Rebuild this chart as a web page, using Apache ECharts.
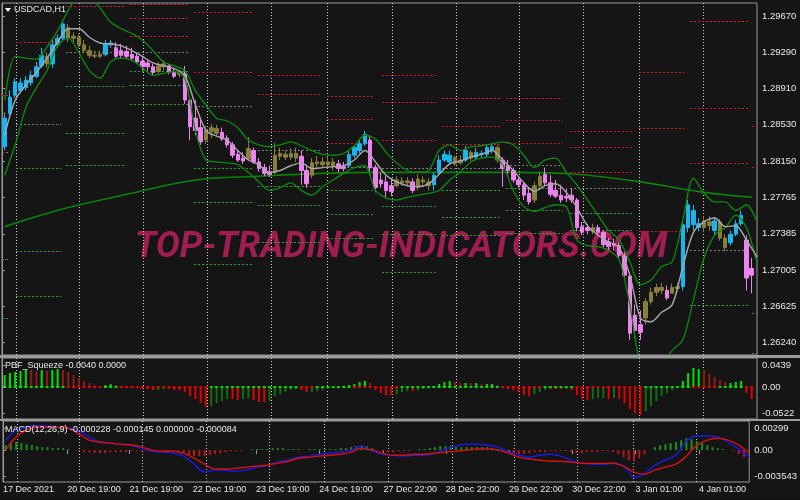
<!DOCTYPE html>
<html><head><meta charset="utf-8">
<script src="https://cdn.jsdelivr.net/npm/echarts@6/dist/echarts.min.js"></script>
<style>html,body{margin:0;padding:0;background:#151515}#c{width:800px;height:500px}</style>
</head><body><div id="c"></div>
<script>
// ---------- DATA ----------
const BAR_HOURS = 2; // each candle covers 2 hours, first candle centred at hour 1
const barOpen = [1.2830,1.2865,1.2884,1.2889,1.2892,1.2897,1.2904,1.2915,1.2925,1.2917,
1.2937,1.2944,1.2955,1.2944,1.2945,1.2937,1.2931,1.2926,1.2925,1.2927,
1.2937,1.2934,1.2931,1.2930,1.2927,1.2925,1.2920,1.2918,1.2914,1.2909,
1.2914,1.2915,1.2908,1.2906,1.2907,1.2879,1.2860,1.2850,1.2837,1.2846,
1.2849,1.2845,1.2839,1.2832,1.2822,1.2818,1.2817,1.2826,1.2814,1.2808,
1.2803,1.2803,1.2820,1.2822,1.2819,1.2823,1.2820,1.2805,1.2800,1.2812,
1.2814,1.2811,1.2814,1.2812,1.2809,1.2810,1.2821,1.2826,1.2833,1.2837,
1.2808,1.2795,1.2793,1.2789,1.2789,1.2794,1.2792,1.2793,1.2787,1.2795,
1.2793,1.2790,1.2803,1.2816,1.2814,1.2819,1.2813,1.2816,1.2824,1.2819,
1.2822,1.2822,1.2826,1.2829,1.2816,1.2810,1.2805,1.2795,1.2790,1.2781,
1.2774,1.2789,1.2801,1.2792,1.2784,1.2779,1.2778,1.2779,1.2774,1.2746,
1.2742,1.2741,1.2745,1.2740,1.2730,1.2728,1.2726,1.2715,1.2694,1.2653,
1.2643,1.2650,1.2667,1.2677,1.2682,1.2679,1.2676,1.2681,1.2683,1.2745,
1.2763,1.2749,1.2745,1.2751,1.2742,1.2751,1.2734,1.2729,1.2738,1.2749,
1.2732,1.2695];
const barClose = [1.2860,1.2882,1.2898,1.2897,1.2900,1.2905,1.2914,1.2926,1.2917,1.2937,
1.2944,1.2959,1.2944,1.2946,1.2937,1.2931,1.2926,1.2925,1.2927,1.2938,
1.2939,1.2925,1.2926,1.2925,1.2923,1.2919,1.2914,1.2914,1.2908,1.2915,
1.2917,1.2908,1.2904,1.2907,1.2879,1.2851,1.2847,1.2835,1.2847,1.2850,
1.2844,1.2838,1.2832,1.2821,1.2816,1.2815,1.2828,1.2814,1.2807,1.2802,
1.2801,1.2821,1.2823,1.2819,1.2823,1.2818,1.2805,1.2791,1.2813,1.2814,
1.2811,1.2814,1.2810,1.2807,1.2807,1.2822,1.2829,1.2833,1.2843,1.2808,
1.2787,1.2791,1.2784,1.2783,1.2795,1.2792,1.2794,1.2784,1.2796,1.2793,
1.2789,1.2800,1.2816,1.2822,1.2821,1.2812,1.2816,1.2826,1.2818,1.2824,
1.2823,1.2829,1.2830,1.2816,1.2807,1.2805,1.2795,1.2790,1.2779,1.2772,
1.2789,1.2799,1.2792,1.2780,1.2778,1.2774,1.2776,1.2774,1.2745,1.2740,
1.2745,1.2745,1.2740,1.2727,1.2725,1.2726,1.2716,1.2695,1.2634,1.2637,
1.2635,1.2667,1.2677,1.2682,1.2679,1.2671,1.2682,1.2683,1.2748,1.2769,
1.2748,1.2745,1.2752,1.2747,1.2752,1.2734,1.2724,1.2738,1.2749,1.2758,
1.2692,1.2702];
const barLow = [1.2826,1.2862,1.2881,1.2886,1.2889,1.2894,1.2902,1.2913,1.2913,1.2913,
1.2934,1.2942,1.2940,1.2940,1.2934,1.2928,1.2923,1.2923,1.2923,1.2925,
1.2934,1.2923,1.2923,1.2922,1.2920,1.2917,1.2910,1.2910,1.2905,1.2907,
1.2910,1.2906,1.2902,1.2903,1.2875,1.2837,1.2842,1.2832,1.2833,1.2839,
1.2841,1.2836,1.2829,1.2818,1.2814,1.2812,1.2816,1.2812,1.2804,1.2799,
1.2798,1.2801,1.2816,1.2816,1.2816,1.2814,1.2790,1.2787,1.2797,1.2808,
1.2808,1.2808,1.2805,1.2803,1.2804,1.2808,1.2818,1.2823,1.2831,1.2800,
1.2782,1.2787,1.2776,1.2778,1.2787,1.2789,1.2789,1.2781,1.2784,1.2790,
1.2784,1.2784,1.2801,1.2814,1.2812,1.2810,1.2811,1.2814,1.2815,1.2816,
1.2818,1.2819,1.2823,1.2813,1.2788,1.2800,1.2792,1.2787,1.2774,1.2769,
1.2771,1.2787,1.2789,1.2777,1.2776,1.2771,1.2772,1.2771,1.2741,1.2737,
1.2738,1.2738,1.2737,1.2724,1.2721,1.2721,1.2713,1.2692,1.2627,1.2629,
1.2627,1.2643,1.2664,1.2673,1.2675,1.2669,1.2676,1.2678,1.2679,1.2740,
1.2742,1.2741,1.2740,1.2742,1.2737,1.2731,1.2720,1.2726,1.2736,1.2747,
1.2679,1.2676];
const barHigh = [1.2866,1.2889,1.2902,1.2902,1.2904,1.2910,1.2919,1.2934,1.2929,1.2942,
1.2948,1.2963,1.2959,1.2950,1.2948,1.2942,1.2936,1.2931,1.2931,1.2942,
1.2942,1.2940,1.2938,1.2936,1.2934,1.2929,1.2925,1.2921,1.2917,1.2919,
1.2921,1.2917,1.2912,1.2910,1.2915,1.2881,1.2879,1.2860,1.2852,1.2854,
1.2853,1.2850,1.2842,1.2835,1.2826,1.2824,1.2840,1.2829,1.2818,1.2812,
1.2810,1.2834,1.2829,1.2826,1.2828,1.2829,1.2826,1.2811,1.2818,1.2820,
1.2819,1.2820,1.2818,1.2816,1.2814,1.2826,1.2832,1.2837,1.2847,1.2842,
1.2811,1.2803,1.2799,1.2797,1.2799,1.2798,1.2798,1.2797,1.2801,1.2799,
1.2797,1.2803,1.2821,1.2826,1.2826,1.2820,1.2821,1.2831,1.2826,1.2829,
1.2826,1.2832,1.2833,1.2832,1.2819,1.2816,1.2808,1.2799,1.2793,1.2787,
1.2793,1.2803,1.2808,1.2800,1.2795,1.2790,1.2786,1.2786,1.2776,1.2751,
1.2749,1.2749,1.2748,1.2742,1.2734,1.2733,1.2729,1.2719,1.2698,1.2664,
1.2658,1.2671,1.2682,1.2686,1.2687,1.2684,1.2686,1.2687,1.2751,1.2774,
1.2769,1.2755,1.2757,1.2757,1.2756,1.2754,1.2738,1.2742,1.2753,1.2763,
1.2737,1.2713];
// b = strong up (blue), o = neutral (olive), p = down (violet)
const barColorCode = "bbbbbbbbob"+"bbooooooob"+"bppppppppo"+"oppoppppoo"+"opppppoppp"+"poooooppoo"+"oooppbbbbp"+"ppppooopoo"+"obbbboobob"+"bbbopppppp"+"oopppppppp"+"popppppppp"+"poooopoobb"+"bbooboobbb"+"pp";

// indicator lines sampled every 2 bars (4 hours)
const maLine = [1.2842,1.2879,1.2895,1.2908,1.2923,1.2940,1.2954,1.2954,1.2945,1.2939,
1.2938,1.2936,1.2931,1.2925,1.2918,1.2915,1.2912,1.2905,1.2874,1.2847,
1.2841,1.2837,1.2826,1.2816,1.2811,1.2803,1.2805,1.2810,1.2813,1.2807,
1.2808,1.2809,1.2810,1.2816,1.2826,1.2814,1.2800,1.2793,1.2789,1.2788,
1.2791,1.2801,1.2812,1.2815,1.2819,1.2822,1.2826,1.2816,1.2805,1.2792,
1.2783,1.2789,1.2791,1.2782,1.2766,1.2747,1.2737,1.2730,1.2724,1.2695,
1.2650,1.2646,1.2656,1.2664,1.2704,1.2740,1.2751,1.2755,1.2746,1.2747,
1.2732,1.2714];
const bandUpper = [1.2879,1.2925,1.2923,1.2922,1.2935,1.2952,1.2973,1.2989,1.2987,1.2976,
1.2961,1.2954,1.2949,1.2942,1.2931,1.2919,1.2915,1.2910,1.2889,1.2874,
1.2860,1.2857,1.2850,1.2837,1.2832,1.2830,1.2832,1.2835,1.2831,1.2826,
1.2822,1.2821,1.2823,1.2831,1.2842,1.2838,1.2824,1.2813,1.2805,1.2803,
1.2805,1.2826,1.2832,1.2826,1.2830,1.2831,1.2833,1.2835,1.2832,1.2821,
1.2808,1.2816,1.2818,1.2803,1.2790,1.2774,1.2758,1.2742,1.2732,1.2709,
1.2685,1.2690,1.2704,1.2709,1.2753,1.2797,1.2781,1.2772,1.2772,1.2763,
1.2769,1.2751];
const bandLower = [1.2800,1.2832,1.2871,1.2892,1.2910,1.2936,1.2944,1.2929,1.2910,1.2902,
1.2919,1.2923,1.2921,1.2913,1.2905,1.2907,1.2909,1.2902,1.2847,1.2816,
1.2814,1.2813,1.2811,1.2803,1.2793,1.2784,1.2787,1.2792,1.2784,1.2779,
1.2788,1.2795,1.2802,1.2808,1.2810,1.2784,1.2776,1.2774,1.2777,1.2779,
1.2781,1.2784,1.2795,1.2803,1.2814,1.2818,1.2819,1.2811,1.2784,1.2767,
1.2762,1.2766,1.2769,1.2767,1.2732,1.2726,1.2725,1.2721,1.2711,1.2664,
1.2601,1.2590,1.2601,1.2616,1.2627,1.2669,1.2713,1.2737,1.2745,1.2758,
1.2745,1.2708];
const longMaHours = [1,25,49,73,97,121,145,169,193,217,241,265,283];
const longMa = [1.2746,1.2766,1.2781,1.2795,1.2799,1.2802,1.2803,1.2803,1.2803,1.2801,1.2793,1.2782,1.2777];

// PBF squeeze histogram (per bar)
const squeeze = [0.024,0.028,0.030,0.032,0.034,0.034,0.032,0.034,0.032,0.034,
0.036,0.034,0.030,0.024,0.018,0.012,0.008,0.004,0.002,0.004,
0.006,0.004,-0.002,-0.002,-0.002,-0.002,-0.004,-0.004,-0.006,-0.006,
-0.004,-0.004,-0.006,-0.006,-0.010,-0.018,-0.024,-0.032,-0.040,-0.038,
-0.032,-0.028,-0.024,-0.024,-0.026,-0.024,-0.022,-0.026,-0.030,-0.030,
-0.028,-0.018,-0.014,-0.010,-0.006,-0.004,-0.006,-0.010,-0.010,-0.008,
-0.006,-0.004,-0.002,-0.002,0.002,0.004,0.006,0.010,0.012,0.008,
-0.006,-0.012,-0.016,-0.016,-0.014,-0.010,-0.008,-0.008,-0.006,-0.004,
-0.002,0.002,0.006,0.010,0.012,0.010,0.008,0.008,0.008,0.008,
0.006,0.006,0.006,0.004,-0.002,-0.004,-0.006,-0.010,-0.016,-0.018,
-0.014,-0.010,-0.006,-0.004,-0.004,-0.004,-0.004,-0.006,-0.016,-0.024,
-0.026,-0.024,-0.022,-0.022,-0.024,-0.022,-0.024,-0.032,-0.044,-0.052,
-0.056,-0.048,-0.038,-0.028,-0.018,-0.012,-0.006,-0.002,0.012,0.028,
0.038,0.036,0.034,0.026,0.020,0.014,0.010,0.008,0.010,0.012,
-0.012,-0.024];
// G up-rising, M up-falling, R down-falling, D down-rising
const squeezeColorCode = "GGGGGMMGMG"+"GMMMMMMMMG"+"GMRRRRRRRD"+"DRRRRRRRRD"+"DDDRRDDRRR"+"DDDDDDRRDD"+"DDDRGGGGGM"+"RRRRDDDRDD"+"DGGGGMMGMG"+"MGGMRRRRRR"+"DDDRRRDRRR"+"RDDDRDRRRR"+"RDDDDDDDGG"+"GGMMMMMGGG"+"RR";
const squeezeDotCode = "gggggggggggg"+"rrrrrrr"+"ggg"+"rrrrrrrrrrrrrrrrr"+"ggggggggggggggggg"+"rrr"+"ggggggg"+"rrrrrrrrr"+"ggggggggggggggggggg"+"rrrrrrrr"+"gggggg"+"rrrrrrrrrrrrr"+"ggggggggg"+"rrrrr"+"ggggg"+"rr";

// MACD
const macdHist = [0.00069,0.0011,0.0011,0.00096,0.00082,0.00069,0.00055,0.00041,0.00041,0.00027,
0.00027,0.00027,0.00014,0,-0.00014,-0.00027,-0.00027,-0.00041,-0.00041,-0.00041,
-0.00027,-0.00027,-0.00027,-0.00027,-0.00014,-0.00014,-0.00014,-0.00014,-0.00014,-0.00014,
-0.00014,-0.00014,-0.00014,-0.00027,-0.00041,-0.00069,-0.00082,-0.00082,-0.00082,-0.00069,
-0.00055,-0.00041,-0.00027,-0.00014,-0.00014,-0.00014,0,0.00014,0.00014,0.00014,
0.00014,0.00027,0.00027,0.00027,0.00014,0.00014,0.00014,0,0.00014,0.00014,
0.00014,0.00014,0.00014,0.00014,0.00027,0.00027,0.00041,0.00055,0.00069,0.00055,
0.00027,0,-0.00014,-0.00027,-0.00027,-0.00014,-0.00014,-0.00014,0,0.00014,
0.00014,0.00027,0.00041,0.00055,0.00055,0.00055,0.00041,0.00041,0.00041,0.00041,
0.00041,0.00041,0.00041,0.00027,0.00014,-0.00014,-0.00027,-0.00041,-0.00055,-0.00055,
-0.00041,-0.00027,-0.00027,-0.00027,-0.00014,-0.00014,-0.00014,-0.00014,-0.00027,-0.00041,
-0.00041,-0.00027,-0.00027,-0.00027,-0.00014,-0.00014,-0.00027,-0.00055,-0.00096,-0.00137,
-0.00151,-0.0011,-0.00055,0,0.00041,0.00069,0.00082,0.00096,0.0011,0.00137,
0.00164,0.00151,0.00123,0.00096,0.00069,0.00041,0.00027,0.00014,0,-0.00014,
-0.00055,-0.00096];
const macdMain = [0.00137,0.00274,0.00315,0.00329,0.00329,0.00315,0.00301,0.00260,0.00178,0.00110,
0.00096,0.00082,0.00069,0.00027,-0.00014,-0.00027,-0.00041,-0.00082,-0.00192,-0.00301,
-0.00274,-0.00274,-0.00288,-0.00274,-0.00233,-0.00206,-0.00164,-0.00137,-0.00096,-0.00082,
-0.00055,-0.00041,-0.00027,0,0.00055,-0.00014,-0.00055,-0.00069,-0.00082,-0.00069,
-0.00069,-0.00041,0.00014,0.00055,0.00082,0.00082,0.00069,0.00041,-0.00027,-0.00069,
-0.00096,-0.00069,-0.00055,-0.00082,-0.00137,-0.00178,-0.00192,-0.00192,-0.00178,-0.00219,
-0.00370,-0.00329,-0.00206,-0.00137,-0.00069,0.00123,0.00192,0.00192,0.00178,0.00110,
0.00014,-0.00096];
const macdSignal = [0,0.00178,0.00274,0.00315,0.00315,0.00315,0.00301,0.00219,0.00137,0.00110,
0.00096,0.00082,0.00069,0.00041,0,-0.00014,-0.00014,-0.00041,-0.00110,-0.00192,
-0.00260,-0.00260,-0.00247,-0.00233,-0.00219,-0.00206,-0.00178,-0.00151,-0.00110,-0.00096,
-0.00082,-0.00069,-0.00055,-0.00027,0.00027,0,-0.00041,-0.00069,-0.00069,-0.00055,
-0.00055,-0.00041,-0.00027,-0.00014,0,0.00014,0.00014,0,-0.00041,-0.00096,
-0.00123,-0.00137,-0.00151,-0.00151,-0.00164,-0.00178,-0.00178,-0.00178,-0.00178,-0.00219,
-0.00301,-0.00329,-0.00274,-0.00233,-0.00192,-0.00082,0.00069,0.00137,0.00164,0.00137,
0.00069,-0.00041];

// daily pivot levels: segment from/to in hours
const pivotFrom = [0,5.3,24.2,48.3,72.5,96.6,122.7,143.5,166.1,190.3,214.4,240.5,259.7,283.1];
const pivotTo   = [2.3,22.3,46.1,70.2,94.4,120.0,140.1,163.8,188.0,211.8,237.8,257.8,281.6,285];
const pivotRed = [[1.2884],[1.2940],[1.2978],[1.2980,1.2965,1.2946],[1.2972,1.2908],[1.2905,1.2885,1.2847],
 [1.2883,1.2859,1.2834],[1.2905,1.2877,1.2837],[1.2881,1.2852,1.2833],[1.2881,1.2858,1.2834],
 [1.2847,1.2830,1.2803],[1.2909,1.2850,1.2741],[1.2962,1.2871,1.2813],[1.2852,1.2809]];
const pivotGray = [[1.2824],[1.2854],[1.2929],[1.2929],[1.2873],[1.2826],[1.2809],[1.2808],[1.2808],[1.2811],[1.2787],[],[1.2721],[]];
const pivotGreen = [[1.2712,1.2650],[1.2808,1.2720,1.2673],[1.2894,1.2844,1.2811],[1.2910,1.2895,1.2875],
 [1.2808,1.2772,1.2707],[1.2789,1.2769,1.2730],[1.2784,1.2759,1.2734],[1.2768,1.2738,1.2698],
 [1.2784,1.2756,1.2737],[1.2787,1.2763,1.2739],[1.2760,1.2742],[],[1.2664],[1.2655,1.2613]];

// axes
const xTickHours = [0,24.5,48.3,72.5,96.6,120.8,145.3,169.1,193.3,217.4,241.6,265.8];
const xTickLabels = ['17 Dec 2021','20 Dec 19:00','21 Dec 19:00','22 Dec 19:00','23 Dec 19:00','24 Dec 19:00','27 Dec 22:00','28 Dec 22:00','29 Dec 22:00','30 Dec 22:00','3 Jan 01:00','4 Jan 01:00'];
const gridHours = [5.3,29.1,53.2,77.4,101.5,122.7,147.2,171.4,195.2,219.3,240.5,264.6];
const priceTicks = [1.2967,1.2929,1.2891,1.2853,1.2815,1.27765,1.27385,1.27005,1.26625,1.2624];
const squeezeTicks = [0.0439,0,-0.0522];
const squeezeTickLabels = ['0.0439','0.00','-0.0522'];
const macdTicks = [0.00299,0,-0.003543];
const macdTickLabels = ['0.00299','0.00','-0.003543'];

// ---------- CHART ----------
const FONT = '"Liberation Sans","Arial",sans-serif';
const TXT = '#e8e8e8';
const CANDLE_COL = {b:'#19b5f0', o:'#85803a', p:'#ee82ee'};
const SQ_COL = {G:'#00e000', M:'#8e1a1a', R:'#e00000', D:'#116d11'};
const DOT_COL = {g:'#00ff00', r:'#ff0000'};
const PIV_COL = ['#d41414','#7d7d7d','#2f9f2f'];
const barHour = k => 1 + BAR_HOURS * k;
const sampleHour = j => 1 + 2 * BAR_HOURS * j;
const nearestLabel = (ticks, labels, v) => { let bi=0; ticks.forEach((t,i)=>{ if(Math.abs(t-v)<Math.abs(ticks[bi]-v)) bi=i; }); return labels[bi]; };

const candleData = barOpen.map((o,k)=>{
  const c = CANDLE_COL[barColorCode[k]];
  return {value:[barHour(k), o, barClose[k], barLow[k], barHigh[k]], itemStyle:{color:c,color0:c,borderColor:c,borderColor0:c}};
});
const pivotData = [];
pivotFrom.forEach((f,i)=>{
  [pivotRed[i],pivotGray[i],pivotGreen[i]].forEach((lv,ci)=>lv.forEach(p=>pivotData.push([f,pivotTo[i],p,ci])));
});
const lineOf = arr => arr.map((v,j)=>[sampleHour(j), v]);

function vGrid(yMid){
  return {type:'custom', z:1, silent:true, data: gridHours.map(h=>[h,yMid]), encode:{x:0,y:1},
    renderItem:(params,api)=>{
      const x = Math.round(api.coord([api.value(0), yMid])[0]) + 0.5;
      const cs = params.coordSys;
      return {type:'line', shape:{x1:x,y1:cs.y,x2:x,y2:cs.y+cs.height}, style:{stroke:'#cfcfcf',lineWidth:1,lineDash:[1,2]}};
    }};
}

const grids = [
  {left:2, top:3, width:755, height:352, show:true, borderColor:'#9a9a9a', borderWidth:1},
  {left:2, top:358, width:755, height:61, show:true, borderColor:'#9a9a9a', borderWidth:1},
  {left:2, top:421, width:755, height:61, show:true, borderColor:'#9a9a9a', borderWidth:1}
];
const xAxisBase = {type:'value', min:0, max:285, splitLine:{show:false}, axisLine:{show:false}};
const yCommon = {type:'value', position:'right', splitLine:{show:false},
  axisLine:{show:true, lineStyle:{color:'#9a9a9a'}},
  axisTick:{show:true, length:3, lineStyle:{color:'#9a9a9a'}},
  axisLabel:{color:TXT, fontSize:9.5, fontFamily:FONT, margin:5}};

const option = {
  backgroundColor:'#151515',
  animation:false,
  grid: grids,
  xAxis: [
    Object.assign({gridIndex:0, axisTick:{show:false}, axisLabel:{show:false}}, xAxisBase),
    Object.assign({gridIndex:1, axisTick:{show:false}, axisLabel:{show:false}}, xAxisBase),
    Object.assign({gridIndex:2,
      axisTick:{show:true, length:4, customValues:xTickHours, lineStyle:{color:'#9a9a9a'}},
      axisLabel:{show:true, customValues:xTickHours, align:'left', margin:3, color:TXT, fontSize:9, fontFamily:FONT,
        formatter:v=>nearestLabel(xTickHours,xTickLabels,v)}}, xAxisBase)
  ],
  yAxis: [
    Object.assign({}, yCommon, {gridIndex:0, min:1.26111, max:1.29810,
      axisTick:Object.assign({}, yCommon.axisTick, {customValues:priceTicks}),
      axisLabel:Object.assign({}, yCommon.axisLabel, {customValues:priceTicks, formatter:v=>v.toFixed(5)})}),
    Object.assign({}, yCommon, {gridIndex:1, min:-0.0635, max:0.0578,
      axisTick:Object.assign({}, yCommon.axisTick, {customValues:squeezeTicks}),
      axisLabel:Object.assign({}, yCommon.axisLabel, {customValues:squeezeTicks, formatter:v=>nearestLabel(squeezeTicks,squeezeTickLabels,v)})}),
    Object.assign({}, yCommon, {gridIndex:2, min:-0.004365, max:0.00399,
      axisTick:Object.assign({}, yCommon.axisTick, {customValues:macdTicks}),
      axisLabel:Object.assign({}, yCommon.axisLabel, {customValues:macdTicks, formatter:v=>nearestLabel(macdTicks,macdTickLabels,v)})})
  ],
  series: [
    Object.assign(vGrid(1.28), {xAxisIndex:0, yAxisIndex:0}),
    Object.assign(vGrid(0), {xAxisIndex:1, yAxisIndex:1}),
    Object.assign(vGrid(0), {xAxisIndex:2, yAxisIndex:2}),
    {type:'custom', xAxisIndex:0, yAxisIndex:0, z:1, silent:true, clip:true, data:pivotData, encode:{x:[0,1], y:2},
      renderItem:(params,api)=>{
        const p0 = api.coord([api.value(0), api.value(2)]);
        const p1 = api.coord([api.value(1), api.value(2)]);
        const y = Math.round(p0[1]) + 0.5;
        return {type:'line', shape:{x1:p0[0],y1:y,x2:p1[0],y2:y}, style:{stroke:PIV_COL[api.value(3)],lineWidth:1,lineDash:[2,2]}};
      }},
    {type:'line', xAxisIndex:0, yAxisIndex:0, z:2, data: longMaHours.map((h,i)=>[h,longMa[i]]), smooth:0.4, symbol:'none', lineStyle:{color:'#0c800c', width:1.6}},
    {type:'candlestick', xAxisIndex:0, yAxisIndex:0, z:3, barWidth:4, data:candleData, itemStyle:{borderWidth:1}},
    {type:'line', xAxisIndex:0, yAxisIndex:0, z:4, data: lineOf(bandUpper), smooth:0.3, symbol:'none', lineStyle:{color:'#0c8a0c', width:1.3}},
    {type:'line', xAxisIndex:0, yAxisIndex:0, z:4, data: lineOf(bandLower), smooth:0.3, symbol:'none', lineStyle:{color:'#0c8a0c', width:1.3}},
    {type:'line', xAxisIndex:0, yAxisIndex:0, z:4, data: lineOf(maLine), smooth:0.3, symbol:'none', lineStyle:{color:'#a8a8a8', width:1.4}},
    {type:'bar', xAxisIndex:1, yAxisIndex:1, z:3, barWidth:2,
      data: squeeze.map((v,k)=>({value:[barHour(k), v], itemStyle:{color:SQ_COL[squeezeColorCode[k]]}}))},
    {type:'scatter', xAxisIndex:1, yAxisIndex:1, z:4, symbol:'rect', symbolSize:[3,2],
      data: squeeze.map((v,k)=>({value:[barHour(k), 0], itemStyle:{color:DOT_COL[squeezeDotCode[k]]}}))},
    {type:'bar', xAxisIndex:2, yAxisIndex:2, z:3, barWidth:2,
      data: macdHist.map((v,k)=>({value:[barHour(k), v], itemStyle:{color: v>=0 ? '#1f8c1f' : '#b81818'}}))},
    {type:'line', xAxisIndex:2, yAxisIndex:2, z:4, data: lineOf(macdMain), smooth:0.3, symbol:'none', lineStyle:{color:'#1a1ae0', width:1.5}},
    {type:'line', xAxisIndex:2, yAxisIndex:2, z:5, data: lineOf(macdSignal), smooth:0.3, symbol:'none', lineStyle:{color:'#d01212', width:1.5}}
  ],
  graphic: [
    {type:'text', z:0, x:401, y:248, style:{text:'TOP-TRADING-INDICATORS.COM', font:'italic bold 36px Roboto, "Liberation Sans", sans-serif', fill:'#a01d50', textAlign:'center', textVerticalAlign:'middle'}},
    {type:'rect', z:10, shape:{x:0,y:355,width:800,height:3}, style:{fill:'#9a9a9a'}},
    {type:'rect', z:10, shape:{x:0,y:419,width:800,height:2}, style:{fill:'#9a9a9a'}},
    {type:'polygon', z:10, shape:{points:[[5,8],[11,8],[8,12]]}, style:{fill:'#ffffff'}},
    {type:'text', z:10, left:14, top:5, style:{text:'USDCAD,H1', fill:TXT, font:'9px '+FONT}},
    {type:'text', z:10, left:5, top:361, style:{text:'PBF_Squeeze -0.0040 0.0000', fill:TXT, font:'9px '+FONT}},
    {type:'text', z:10, left:5, top:425, style:{text:'MACD(12,26,9) -0.000228 -0.000145 0.000000 -0.000084', fill:TXT, font:'9px '+FONT}}
  ]
};
const chart = echarts.init(document.getElementById('c'), null, {width:800, height:500});
chart.setOption(option);
</script>
</body></html>
